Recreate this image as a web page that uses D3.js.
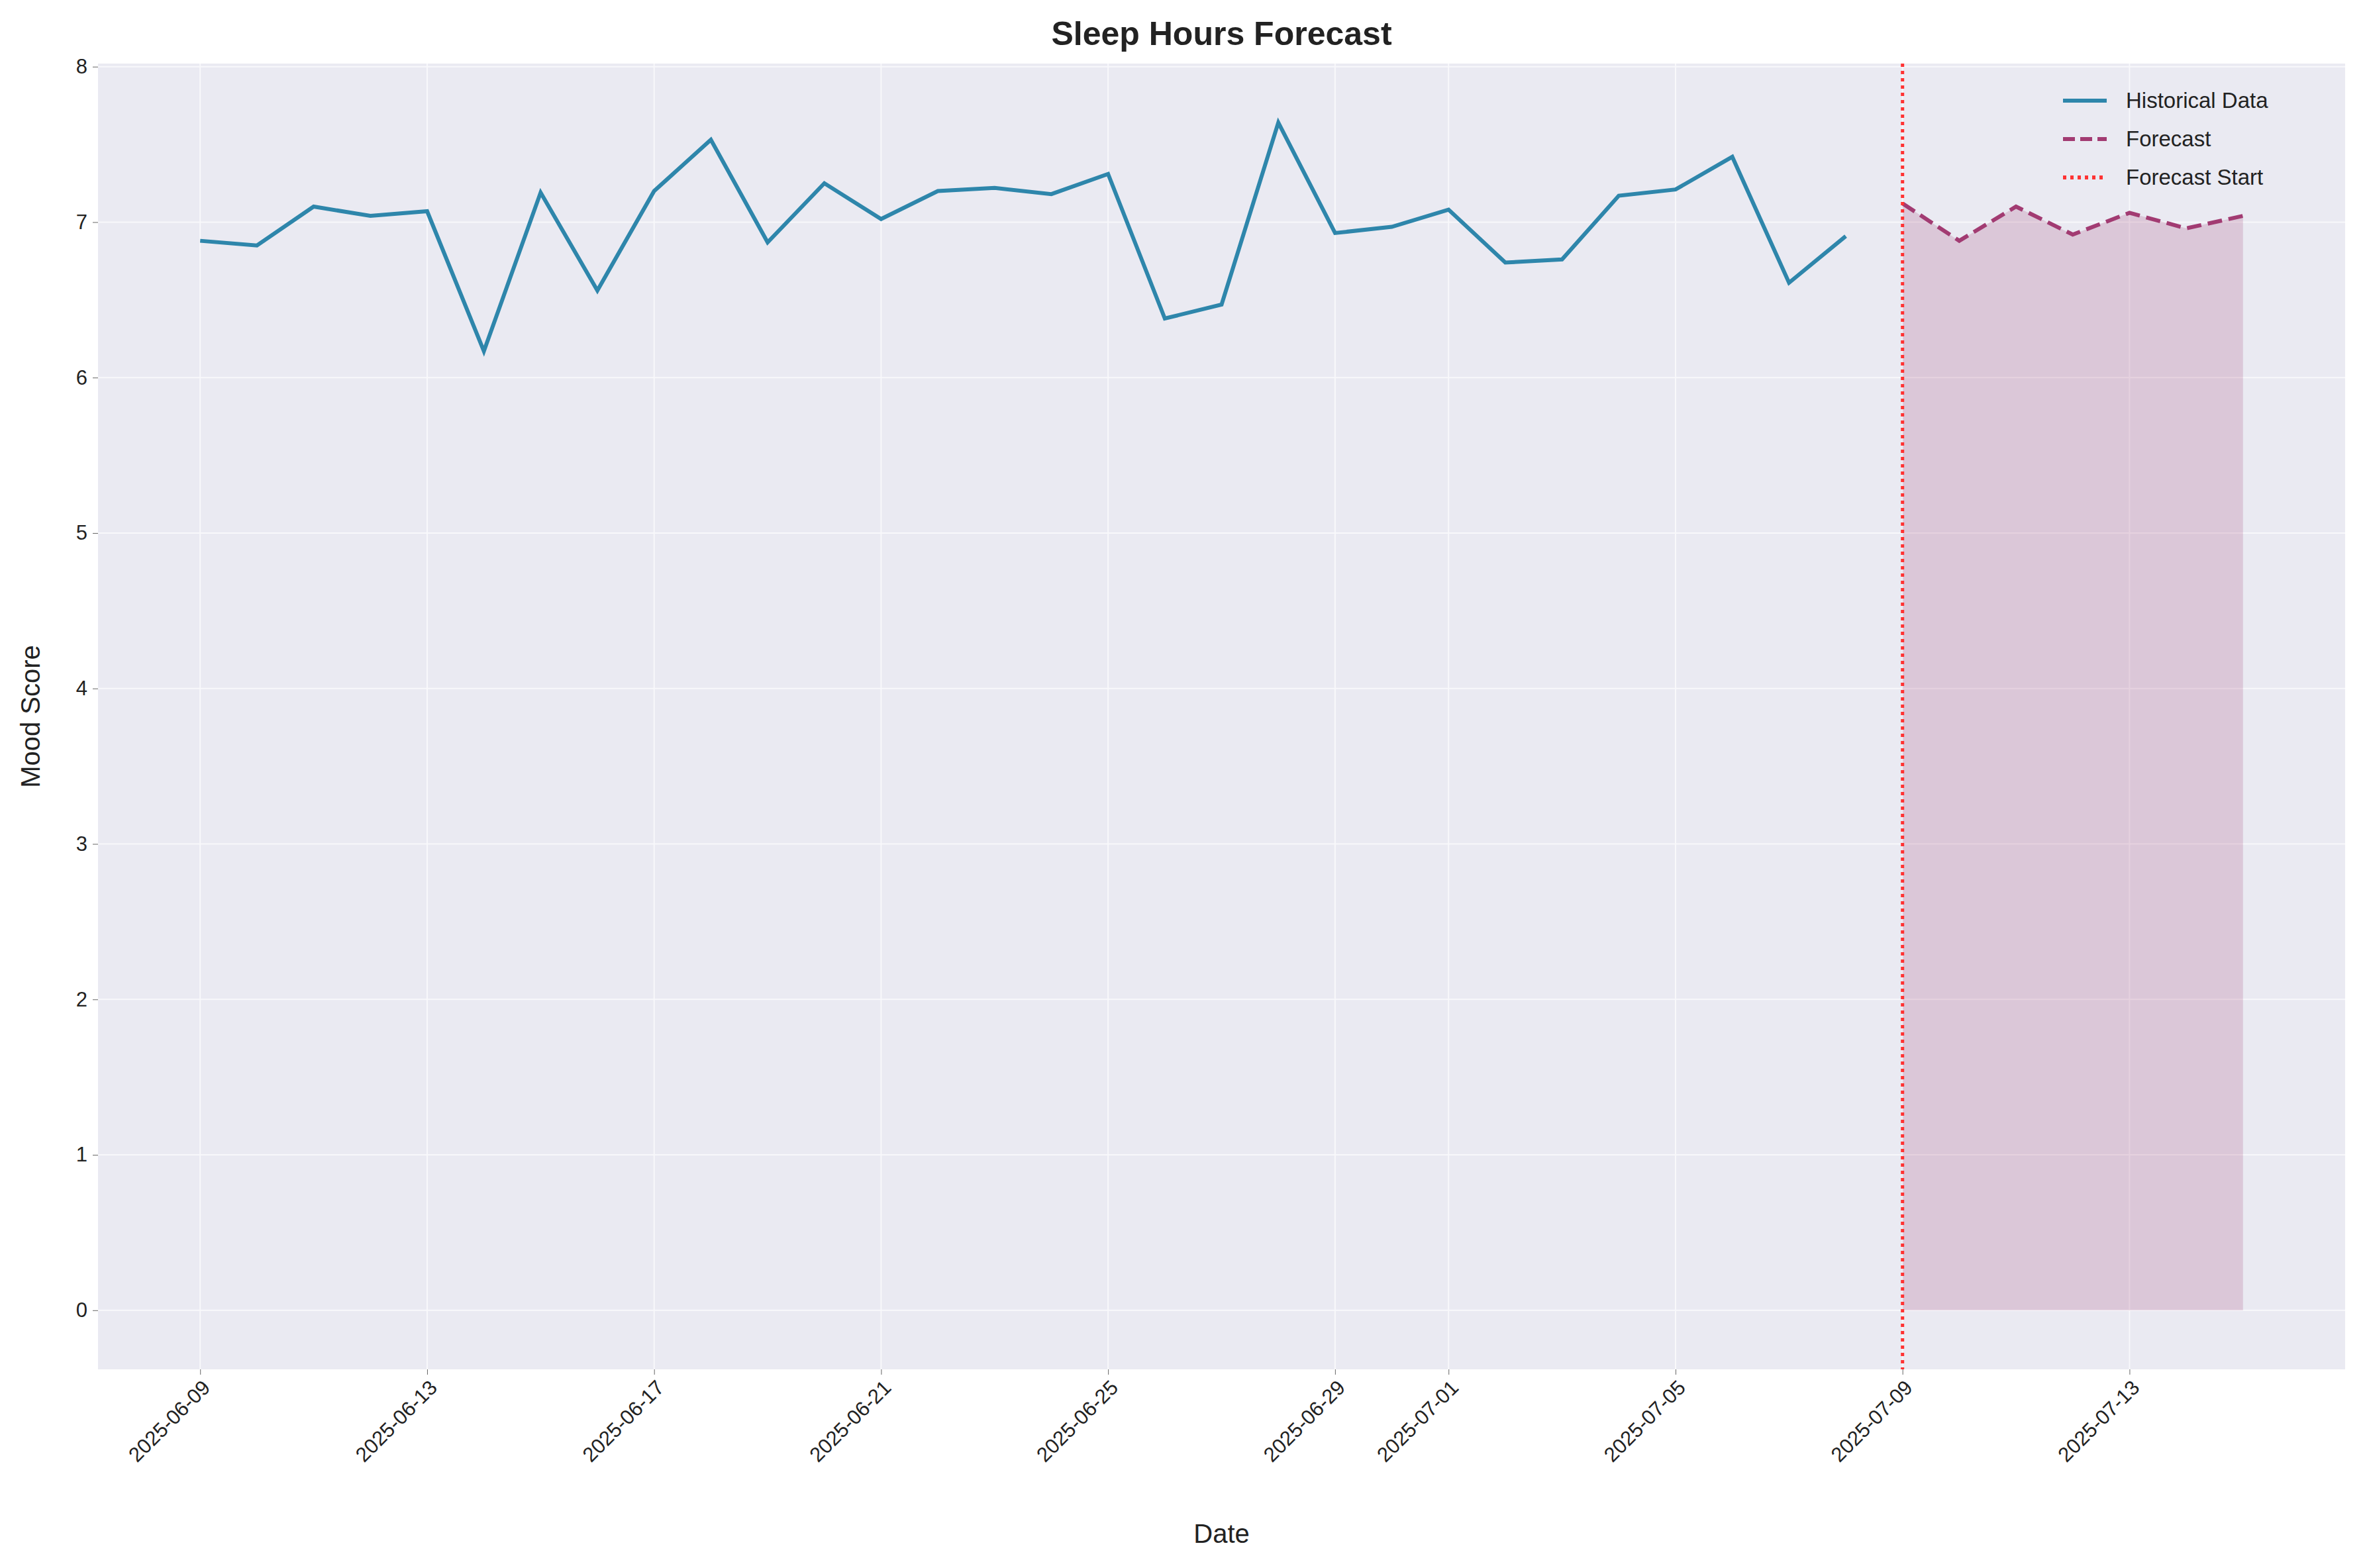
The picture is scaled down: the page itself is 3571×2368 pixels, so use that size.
<!DOCTYPE html>
<html><head><meta charset="utf-8">
<script src="https://cdn.jsdelivr.net/npm/d3@7"></script>
<style>body{margin:0;background:#fff}svg{font-family:Arial,"Liberation Sans",sans-serif}</style>
</head><body><div class="canvas"></div>
<script>
const historyStart = "2025-06-09";
const historyValues = [6.88, 6.85, 7.10, 7.04, 7.07, 6.17, 7.19, 6.56, 7.20, 7.53,
  6.87, 7.25, 7.02, 7.20, 7.22, 7.18, 7.31, 6.38, 6.47, 7.64,
  6.93, 6.97, 7.08, 6.74, 6.76, 7.17, 7.21, 7.42, 6.61, 6.91];
const forecastStart = "2025-07-09";
const forecastValues = [7.12, 6.88, 7.10, 6.92, 7.06, 6.96, 7.04];
const tickDates = ["2025-06-09", "2025-06-13", "2025-06-17", "2025-06-21", "2025-06-25",
  "2025-06-29", "2025-07-01", "2025-07-05", "2025-07-09", "2025-07-13"];
const yTicks = [0, 1, 2, 3, 4, 5, 6, 7, 8];

const W = 3571, H = 2368;
const M = {left: 148, right: 30, top: 96, bottom: 300};
const parse = d3.utcParse("%Y-%m-%d");
const DAY = 864e5;
const hist = historyValues.map((v, i) => ({date: new Date(+parse(historyStart) + i * DAY), v}));
const fc = forecastValues.map((v, i) => ({date: new Date(+parse(forecastStart) + i * DAY), v}));

const t0 = +hist[0].date, t1 = +fc[fc.length - 1].date, pad = (t1 - t0) * 0.05;
const x = d3.scaleUtc().domain([t0 - pad, t1 + pad]).range([M.left, W - M.right]);
const y = d3.scaleLinear().domain([-0.38, 8.02]).range([H - M.bottom, M.top]);

const svg = d3.select('.canvas').append('svg').attr('width', W).attr('height', H);
svg.append('rect').attr('x', M.left).attr('y', M.top)
  .attr('width', W - M.left - M.right).attr('height', H - M.top - M.bottom).attr('fill', '#EAEAF2');

const grid = svg.append('g').attr('stroke', '#fff').attr('stroke-width', 2).attr('opacity', 0.7);
tickDates.forEach(d => grid.append('line').attr('x1', x(parse(d))).attr('x2', x(parse(d)))
  .attr('y1', M.top).attr('y2', H - M.bottom));
yTicks.forEach(t => grid.append('line').attr('x1', M.left).attr('x2', W - M.right)
  .attr('y1', y(t)).attr('y2', y(t)));

const xAxis = svg.append('g').attr('transform', `translate(0,${H - M.bottom})`)
  .call(d3.axisBottom(x).tickValues(tickDates.map(parse)).tickFormat(d3.utcFormat("%Y-%m-%d")).tickSize(8).tickPadding(6));
xAxis.selectAll('text').attr('font-size', 31).attr('fill', '#222')
  .attr('text-anchor', 'end').attr('transform', 'rotate(-45)').attr('dx', '-0.3em').attr('dy', '0.6em');
const yAxis = svg.append('g').attr('transform', `translate(${M.left},0)`)
  .call(d3.axisLeft(y).tickValues(yTicks).tickSize(8).tickPadding(8));
yAxis.selectAll('text').attr('font-size', 31).attr('fill', '#222');
[xAxis, yAxis].forEach(a => { a.select('.domain').remove(); a.selectAll('line').attr('stroke', '#666'); });

svg.append('path').datum(fc)
  .attr('d', d3.area().x(d => x(d.date)).y0(y(0)).y1(d => y(d.v)))
  .attr('fill', '#A23B72').attr('opacity', 0.2);
svg.append('path').datum(hist)
  .attr('d', d3.line().x(d => x(d.date)).y(d => y(d.v)))
  .attr('fill', 'none').attr('stroke', '#2E86AB').attr('stroke-width', 6);
svg.append('path').datum(fc)
  .attr('d', d3.line().x(d => x(d.date)).y(d => y(d.v)))
  .attr('fill', 'none').attr('stroke', '#A23B72').attr('stroke-width', 6).attr('stroke-dasharray', '22,10');
svg.append('line').attr('x1', x(parse(forecastStart))).attr('x2', x(parse(forecastStart)))
  .attr('y1', M.top).attr('y2', H - M.bottom)
  .attr('stroke', '#FF3333').attr('stroke-width', 5).attr('stroke-dasharray', '5,6');

svg.append('text').attr('x', (M.left + W - M.right) / 2).attr('y', 68).attr('text-anchor', 'middle')
  .attr('font-size', 50).attr('font-weight', 'bold').attr('fill', '#222').text('Sleep Hours Forecast');
svg.append('text').attr('x', (M.left + W - M.right) / 2).attr('y', 2330).attr('text-anchor', 'middle')
  .attr('font-size', 40).attr('fill', '#222').text('Date');
svg.append('text').attr('transform', `translate(60,${(M.top + H - M.bottom) / 2}) rotate(-90)`)
  .attr('text-anchor', 'middle').attr('font-size', 40).attr('fill', '#222').text('Mood Score');

const legend = [
  {label: 'Historical Data', color: '#2E86AB', dash: null},
  {label: 'Forecast', color: '#A23B72', dash: '18,8'},
  {label: 'Forecast Start', color: '#FF3333', dash: '5,6'}
];
const lg = svg.append('g').attr('transform', 'translate(3115,152)');
legend.forEach((d, i) => {
  lg.append('line').attr('x1', 0).attr('x2', 66).attr('y1', i * 58).attr('y2', i * 58)
    .attr('stroke', d.color).attr('stroke-width', 6).attr('stroke-dasharray', d.dash);
  lg.append('text').attr('x', 95).attr('y', i * 58 + 11).attr('font-size', 33).attr('fill', '#222').text(d.label);
});
</script></body></html>
